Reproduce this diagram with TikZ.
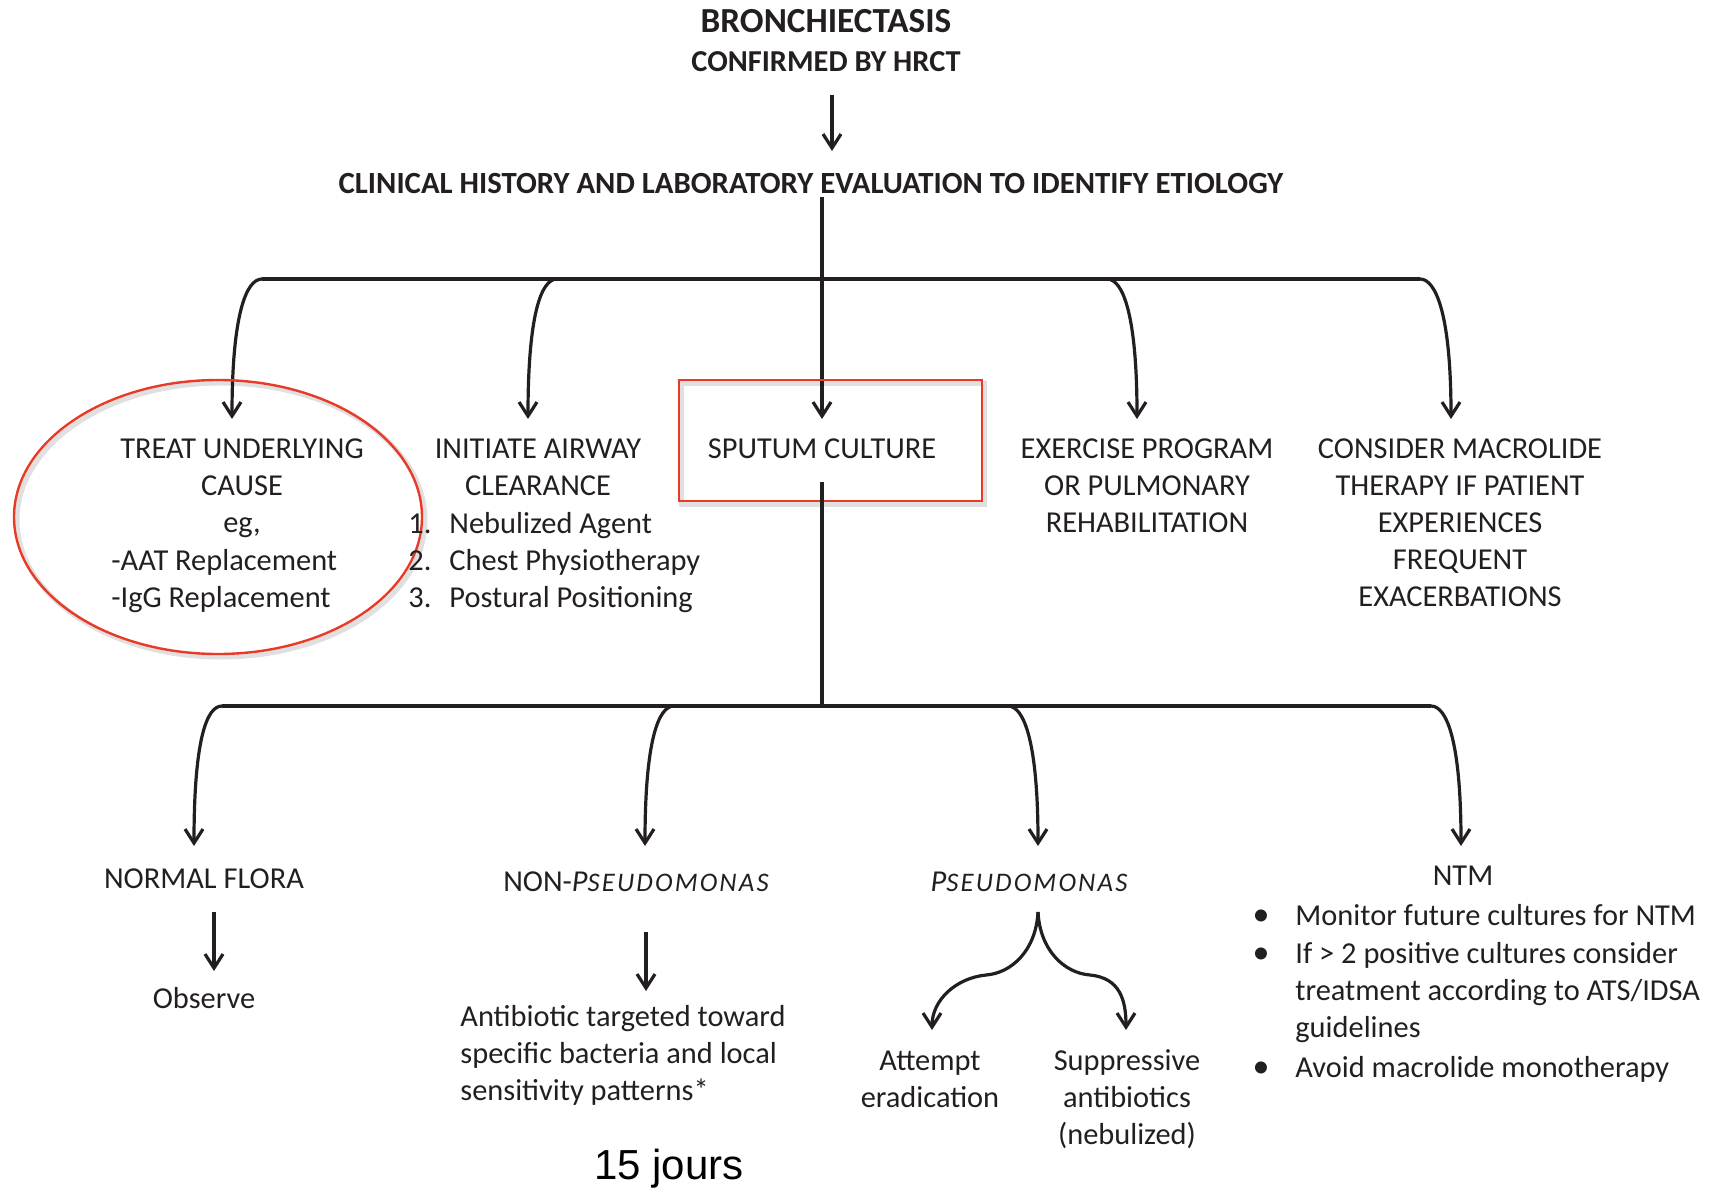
\documentclass[tikz,border=0pt]{standalone}
\usepackage{fontspec}
\setmainfont{Carlito}
\newfontfamily\arialfont{Liberation Sans}
\usetikzlibrary{arrows.meta,calc,shapes.geometric}
\definecolor{ink}{RGB}{35,31,32}
\definecolor{redline}{RGB}{232,58,38}
\newcommand{\bodyfs}{\fontsize{15.2}{18.6}\selectfont}
\newcommand{\smallcapsfs}{\fontsize{13.4}{14}\selectfont\addfontfeature{LetterSpace=8}}
\begin{document}
\begin{tikzpicture}[x=0.5pt,y=-0.5pt,
  txt/.style={font=\bodyfs, text=ink, inner sep=0pt, align=center},
  ltxt/.style={font=\bodyfs, text=ink, inner sep=0pt, align=left},
  hdr/.style={font=\bfseries\fontsize{15.4}{18}\selectfont, text=ink, inner sep=0pt},
  conn/.style={draw=ink, line width=1.6pt},
  arr/.style={conn, -{Straight Barb[length=7pt,width=9pt]}},
  redmark/.style={draw=redline, line width=1.2pt, inner sep=0pt},
  shade/.style={draw=black, opacity=0.12, line width=2.5pt, inner sep=0pt},
]
\useasboundingbox (0,0) rectangle (1717,1188);

% ---------- header ----------
\node[hdr, font=\bfseries\fontsize{17.6}{20}\selectfont, anchor=base] (bronch) at (826,33) {BRONCHIECTASIS};
\node[hdr, font=\bfseries\fontsize{15.2}{18}\selectfont, anchor=base] (confirmed) at (826,72) {CONFIRMED BY HRCT};
\node[hdr, anchor=base] (clinical) at (811,193) {CLINICAL HISTORY AND LABORATORY EVALUATION TO IDENTIFY ETIOLOGY};

\coordinate (topa) at (832,95);
\coordinate (topb) at (832,151);
\draw[arr] (topa) -- (topb);

% ---------- upper branches ----------
\coordinate (cl0) at (822,197);
\coordinate (bar1) at (262,279);
\coordinate (bar2) at (557,279);
\coordinate (bar4) at (1107,279);
\coordinate (bar5) at (1420,279);
\coordinate (tip1) at (232,419);
\coordinate (tip2) at (528,419);
\coordinate (tip3) at (822,419);
\coordinate (tip4) at (1137,419);
\coordinate (tip5) at (1451,419);

\draw[conn] (bar1) -- (bar5);
\draw[arr] (cl0) -- (tip3);
\draw[arr] (bar1) .. controls (246,279) and (232,315) .. (tip1);
\draw[arr] (bar2) .. controls (541,279) and (528,315) .. (tip2);
\draw[arr] (bar4) .. controls (1123,279) and (1137,315) .. (tip4);
\draw[arr] (bar5) .. controls (1436,279) and (1451,315) .. (tip5);

% ---------- upper row ----------
\node[shade, ellipse, minimum width=204pt, minimum height=137pt] at (221,520) {};
\node[redmark, ellipse, minimum width=204pt, minimum height=137pt] (treatoval) at (218,517) {};
\node[shade, rectangle, minimum width=151.5pt, minimum height=60.5pt] at (833,443.5) {};
\node[redmark, rectangle, minimum width=151.5pt, minimum height=60.5pt] (sputumbox) at (830.5,440.5) {};

% multi-line nodes: base anchor = baseline of the last line
\node[txt, anchor=base] (treat) at (242,532.4) {TREAT UNDERLYING\\CAUSE\\eg,};
\node[ltxt, anchor=base west] (treatlist) at (111,607.2) {-AAT Replacement\\-IgG Replacement};

\node[txt, anchor=base] (airway) at (538,495.2) {INITIATE AIRWAY\\CLEARANCE};
\node[ltxt, anchor=base west] (airwaynum) at (408,607.4) {1.\\2.\\3.};
\node[ltxt, anchor=base west] (airwaylist) at (449,607.4) {Nebulized Agent\\Chest Physiotherapy\\Postural Positioning};

\node[txt, anchor=base] (sputum) at (822,458) {SPUTUM CULTURE};

\node[txt, anchor=base] (exercise) at (1147,532.4) {EXERCISE PROGRAM\\OR PULMONARY\\REHABILITATION};
\node[txt, anchor=base] (macrolide) at (1460,606.8) {CONSIDER MACROLIDE\\THERAPY IF PATIENT\\EXPERIENCES\\FREQUENT\\EXACERBATIONS};

% ---------- lower branches ----------
\coordinate (sp0) at (822,482);
\coordinate (low0) at (822,706);
\coordinate (lbar1) at (222,706);
\coordinate (lbar2) at (674,706);
\coordinate (lbar3) at (1008,706);
\coordinate (lbar4) at (1431,706);
\coordinate (ltip1) at (194,846);
\coordinate (ltip2) at (645,846);
\coordinate (ltip3) at (1038,846);
\coordinate (ltip4) at (1461,846);

\draw[conn] (sp0) -- (low0);
\draw[conn] (lbar1) -- (lbar4);
\draw[arr] (lbar1) .. controls (206,706) and (194,742) .. (ltip1);
\draw[arr] (lbar2) .. controls (658,706) and (645,742) .. (ltip2);
\draw[arr] (lbar3) .. controls (1024,706) and (1038,742) .. (ltip3);
\draw[arr] (lbar4) .. controls (1447,706) and (1461,742) .. (ltip4);

% ---------- lower row ----------
\node[txt, anchor=base] (normal) at (204,888) {NORMAL FLORA};
\node[txt, anchor=base] (observe) at (204,1008) {Observe};
\coordinate (nfa) at (214,912);
\coordinate (nfb) at (214,971);
\draw[arr] (nfa) -- (nfb);

\node[txt, anchor=base] (nonpseudo) at (636,891) {NON-{\itshape P{\smallcapsfs SEUDOMONAS}}};
\coordinate (npa) at (646,932);
\coordinate (npb) at (646,991);
\draw[arr] (npa) -- (npb);
\node[ltxt, anchor=base west] (antib) at (460,1100.4) {Antibiotic targeted toward\\specific bacteria and local\\sensitivity patterns*};

\node[anchor=base, inner sep=0pt, text=black, font=\arialfont\fontsize{21}{24}\selectfont] (jours) at (669,1179) {15 jours};

\node[txt, anchor=base] (pseudo) at (1029,891) {\itshape P{\smallcapsfs SEUDOMONAS}};
\coordinate (fork) at (1038,912);
\coordinate (ftipl) at (932,1030);
\coordinate (ftipr) at (1126,1030);
\draw[arr] (fork) .. controls (1036,950) and (1012,973) .. (986,975) .. controls (956,978) and (932,1000) .. (ftipl);
\draw[arr] (fork) .. controls (1040,950) and (1064,973) .. (1090,975) .. controls (1120,978) and (1126,1000) .. (ftipr);
\node[txt, anchor=base] (attempt) at (930,1107.2) {Attempt\\eradication};
\node[txt, anchor=base] (suppress) at (1127,1144.4) {Suppressive\\antibiotics\\(nebulized)};

\node[txt, anchor=base] (ntm) at (1463,885) {NTM};
\node[txt, anchor=base, font=\fontsize{17}{18}\selectfont] (bul1) at (1261,925) {•};
\node[txt, anchor=base, font=\fontsize{17}{18}\selectfont] (bul2) at (1261,963) {•};
\node[txt, anchor=base, font=\fontsize{17}{18}\selectfont] (bul3) at (1261,1077) {•};
\node[ltxt, anchor=base west] (ntm1) at (1295,925) {Monitor future cultures for NTM};
\node[ltxt, anchor=base west] (ntm2) at (1295,1037.4) {If > 2 positive cultures consider\\treatment according to ATS/IDSA\\guidelines};
\node[ltxt, anchor=base west] (ntm3) at (1295,1077) {Avoid macrolide monotherapy};
\end{tikzpicture}
\end{document}
